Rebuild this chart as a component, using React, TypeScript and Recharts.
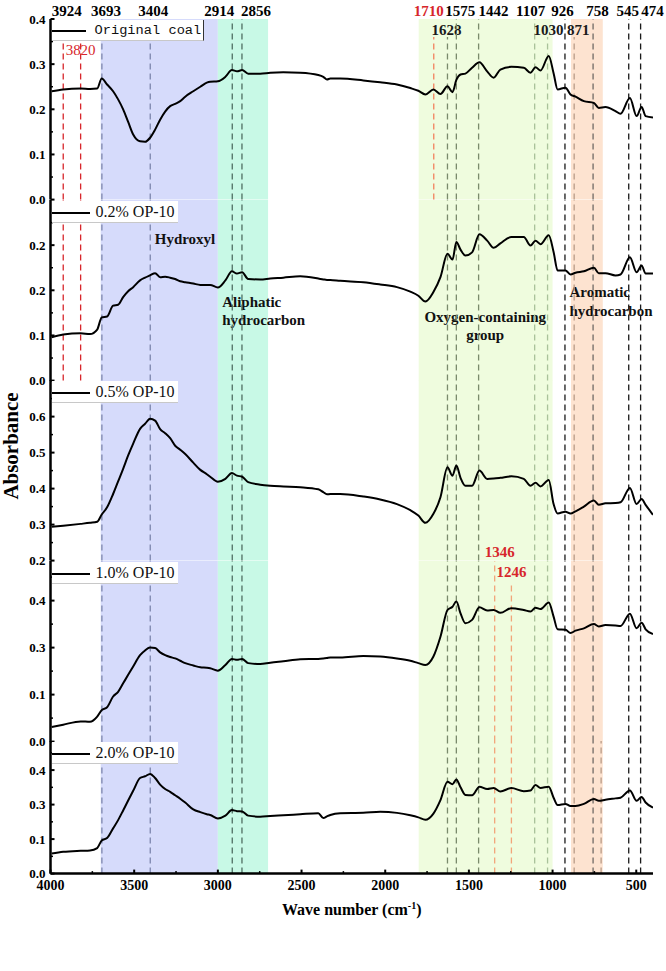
import React from 'react';
import { ComposedChart, Line, XAxis, YAxis, ReferenceLine, ReferenceArea, ReferenceDot, Legend, Label } from 'recharts';

const SERIF = '"Liberation Serif", "Times New Roman", serif';
const MONO = '"Liberation Mono", "Courier New", monospace';

// ---------------- data ----------------
const waveNumbers = [
  3993, 3924, 3820, 3764, 3721, 3694, 3662, 3626, 3596, 3566,
  3536, 3506, 3465, 3435, 3405, 3375, 3345, 3315, 3285, 3255,
  3225, 3195, 3147, 3105, 3066, 3046, 3000, 2955, 2916, 2886,
  2855, 2819, 2747, 2687, 2609, 2508, 2400, 2370, 2348, 2328,
  2269, 2131, 2030, 1930, 1850, 1802, 1760, 1712, 1670, 1628,
  1598, 1575, 1550, 1521, 1481, 1437, 1391, 1352, 1312, 1246,
  1172, 1132, 1102, 1072, 1023, 994, 970, 923, 893, 863,
  813, 753, 724, 684, 624, 594, 538, 498, 468, 444,
  400,
];

const originalCoal = [
  0.240, 0.244, 0.246, 0.245, 0.246, 0.268, 0.255, 0.240, 0.222, 0.200,
  0.172, 0.144, 0.129, 0.128, 0.137, 0.155, 0.177, 0.195, 0.207, 0.212,
  0.218, 0.228, 0.240, 0.250, 0.259, 0.261, 0.262, 0.272, 0.287, 0.284,
  0.287, 0.279, 0.279, 0.281, 0.282, 0.281, 0.276, 0.272, 0.266, 0.268,
  0.268, 0.264, 0.260, 0.255, 0.247, 0.241, 0.233, 0.244, 0.234, 0.251,
  0.238, 0.265, 0.277, 0.279, 0.292, 0.304, 0.284, 0.270, 0.288, 0.294,
  0.292, 0.281, 0.293, 0.286, 0.318, 0.280, 0.244, 0.248, 0.233, 0.228,
  0.218, 0.214, 0.203, 0.205, 0.196, 0.190, 0.225, 0.185, 0.205, 0.185,
  0.182,
];

const op02 = [
  0.096, 0.102, 0.105, 0.103, 0.113, 0.140, 0.142, 0.166, 0.168, 0.185,
  0.198, 0.207, 0.222, 0.228, 0.233, 0.238, 0.229, 0.230, 0.228, 0.225,
  0.220, 0.218, 0.215, 0.212, 0.212, 0.212, 0.206, 0.222, 0.242, 0.237,
  0.240, 0.225, 0.224, 0.226, 0.228, 0.231, 0.226, 0.224, 0.223, 0.223,
  0.221, 0.218, 0.213, 0.207, 0.197, 0.188, 0.175, 0.196, 0.229, 0.281,
  0.268, 0.307, 0.290, 0.277, 0.284, 0.324, 0.310, 0.294, 0.304, 0.318,
  0.318, 0.299, 0.310, 0.302, 0.322, 0.285, 0.244, 0.244, 0.235, 0.239,
  0.242, 0.250, 0.238, 0.238, 0.233, 0.235, 0.273, 0.240, 0.255, 0.237,
  0.237,
];

const op05 = [
  0.294, 0.297, 0.302, 0.305, 0.308, 0.328, 0.348, 0.385, 0.420, 0.455,
  0.492, 0.525, 0.566, 0.580, 0.594, 0.589, 0.565, 0.554, 0.540, 0.519,
  0.508, 0.496, 0.472, 0.452, 0.440, 0.433, 0.419, 0.427, 0.443, 0.436,
  0.433, 0.418, 0.411, 0.408, 0.406, 0.404, 0.398, 0.390, 0.384, 0.385,
  0.385, 0.378, 0.370, 0.357, 0.340, 0.325, 0.305, 0.330, 0.376, 0.459,
  0.436, 0.464, 0.430, 0.408, 0.408, 0.450, 0.427, 0.428, 0.430, 0.434,
  0.427, 0.408, 0.416, 0.406, 0.424, 0.357, 0.331, 0.336, 0.331, 0.337,
  0.350, 0.367, 0.355, 0.359, 0.360, 0.362, 0.402, 0.357, 0.371, 0.355,
  0.327,
];

const op10 = [
  0.031, 0.036, 0.043, 0.042, 0.053, 0.067, 0.073, 0.096, 0.106, 0.124,
  0.142, 0.160, 0.184, 0.194, 0.200, 0.199, 0.190, 0.184, 0.180, 0.177,
  0.172, 0.167, 0.162, 0.158, 0.157, 0.156, 0.151, 0.163, 0.176, 0.174,
  0.176, 0.167, 0.165, 0.168, 0.171, 0.175, 0.176, 0.177, 0.178, 0.179,
  0.179, 0.182, 0.181, 0.177, 0.172, 0.167, 0.163, 0.181, 0.223, 0.280,
  0.287, 0.298, 0.273, 0.252, 0.259, 0.286, 0.279, 0.280, 0.274, 0.284,
  0.280, 0.277, 0.285, 0.282, 0.296, 0.266, 0.239, 0.238, 0.231, 0.236,
  0.241, 0.250, 0.245, 0.248, 0.247, 0.246, 0.272, 0.241, 0.253, 0.239,
  0.229,
];

const op20 = [
  0.058, 0.063, 0.066, 0.067, 0.074, 0.096, 0.103, 0.131, 0.155, 0.183,
  0.212, 0.240, 0.277, 0.282, 0.289, 0.277, 0.258, 0.245, 0.237, 0.227,
  0.217, 0.206, 0.186, 0.178, 0.172, 0.170, 0.160, 0.168, 0.184, 0.181,
  0.180, 0.168, 0.165, 0.167, 0.169, 0.172, 0.175, 0.161, 0.166, 0.170,
  0.175, 0.176, 0.179, 0.176, 0.169, 0.163, 0.156, 0.174, 0.213, 0.266,
  0.259, 0.273, 0.250, 0.228, 0.227, 0.252, 0.245, 0.248, 0.238, 0.248,
  0.239, 0.241, 0.257, 0.248, 0.252, 0.220, 0.199, 0.202, 0.196, 0.196,
  0.202, 0.216, 0.211, 0.214, 0.218, 0.220, 0.241, 0.211, 0.222, 0.206,
  0.191,
];

const seriesNames = ['Original coal', '0.2% OP-10', '0.5% OP-10', '1.0% OP-10', '2.0% OP-10'];
const seriesValues = [originalCoal, op02, op05, op10, op20];

const xTicks = [4000, 3500, 3000, 2500, 2000, 1500, 1000, 500];
const xMinorTicks = [3750, 3250, 2750, 2250, 1750, 1250, 750];
const xDomain = [400, 4000];

const yDomains = [[0, 0.4], [0, 0.4], [0.2, 0.7017], [0, 0.3843], [0, 0.3843]];
const yTicks = [
  [0, 0.1, 0.2, 0.3, 0.4],
  [0, 0.1, 0.2, 0.3],
  [0.2, 0.3, 0.4, 0.5, 0.6],
  [0, 0.1, 0.2, 0.3],
  [0, 0.1, 0.2, 0.3],
];
const yMinorTicks = [
  [0.05, 0.15, 0.25, 0.35],
  [0.05, 0.15, 0.25, 0.35],
  [0.25, 0.35, 0.45, 0.55, 0.65],
  [0.05, 0.15, 0.25, 0.35],
  [0.05, 0.15, 0.25, 0.35],
];
const yTickLabels = [
  ['0.0', '0.1', '0.2', '0.3', '0.4'],
  ['0.0', '0.1', '0.2', '0.2'],
  ['0.2', '0.3', '0.4', '0.5', '0.6'],
  ['0.0', '0.1', '0.3', '0.4'],
  ['0.0', '0.1', '0.3', '0.4'],
];

const bandLines = [['Hydroxyl'], ['Aliphatic', 'hydrocarbon'], ['Oxygen-containing', 'group'], ['Aromatic', 'hydrocarbon']];
const bandFrom = [3700, 3000, 1800, 890];
const bandTo = [3000, 2700, 1000, 700];

const topPeakLabels = [3924, 3693, 3404, 2914, 2856, 1710, 1575, 1442, 1107, 926, 758, 545, 474];
const peakWaves = [3924, 3820, 3693, 3404, 2914, 2856, 1710, 1628, 1575, 1442, 1346, 1246, 1107, 1030, 926, 871, 758, 710, 545, 474];

// ---------------- styles / layout ----------------
const RED = '#d7262b';
const RED_LIGHT = '#f2825f';
const BLUE_GRAY = '#7d86ad';
const TEAL_GRAY = '#4f6e62';
const GREEN_GRAY = '#7a8a6c';
const GREEN_LIGHT = '#a9c29a';
const BLACK = '#1a1a1a';
const ORANGE_GRAY = '#b89c88';
const GRAY = '#6f6a66';
const ORANGE = '#f2a57a';

const BAND_FILL = ['#d6dbfb', '#c8f9e6', '#effcde', '#fde3d0'];
const ALL = [0, 1, 2, 3, 4];

const peakStyle: Record<number, { color: string; panels: number[]; segTop?: Record<number, number> }> = {
  3924: { color: RED, panels: [0, 1], segTop: { 0: 0.354 } },
  3820: { color: RED, panels: [0, 1], segTop: { 0: 0.354 } },
  3693: { color: BLUE_GRAY, panels: ALL },
  3404: { color: BLUE_GRAY, panels: ALL },
  2914: { color: TEAL_GRAY, panels: ALL },
  2856: { color: TEAL_GRAY, panels: ALL },
  1710: { color: RED_LIGHT, panels: [0], segTop: { 0: 0.36 } },
  1628: { color: GREEN_GRAY, panels: ALL, segTop: { 0: 0.36 } },
  1575: { color: GREEN_GRAY, panels: ALL },
  1442: { color: GREEN_GRAY, panels: ALL },
  1346: { color: ORANGE, panels: [3, 4] },
  1246: { color: ORANGE, panels: [3, 4], segTop: { 3: 0.333 } },
  1107: { color: GREEN_LIGHT, panels: ALL },
  1030: { color: GREEN_LIGHT, panels: ALL, segTop: { 0: 0.36 } },
  926: { color: BLACK, panels: ALL },
  871: { color: ORANGE_GRAY, panels: ALL, segTop: { 0: 0.36 } },
  758: { color: GRAY, panels: ALL },
  710: { color: ORANGE_GRAY, panels: [4] },
  545: { color: BLACK, panels: ALL },
  474: { color: BLACK, panels: ALL },
};

const peakLabelLayout = [
  { wave: 3820, panel: 0, inside: true, dy: 15, dx: 0, color: RED, weight: 'normal' },
  { wave: 1628, panel: 0, inside: false, dy: 2, dx: -1, color: BLACK, weight: 'bold' },
  { wave: 1030, panel: 0, inside: false, dy: 2, dx: 1, color: BLACK, weight: 'bold' },
  { wave: 871, panel: 0, inside: false, dy: 2, dx: 4, color: BLACK, weight: 'bold' },
  { wave: 1346, panel: 3, inside: false, dy: 4, dx: 5, color: RED, weight: 'bold' },
  { wave: 1246, panel: 3, inside: false, dy: 8, dx: 0, color: RED, weight: 'bold' },
];

const topLabelNudge = [3.5, 4, 3, -13, 14, -5, 4, 15, -4, -2.5, 4.5, -1, 12];

const BAND_LABEL_LAYOUT = [
  { anchor: 'middle', dx: 84.3, dys: [44.4] },
  { anchor: 'start', dx: 4.3, dys: [107.5, 125.5] },
  { anchor: 'middle', dx: 66.5, dys: [122.5, 140.5] },
  { anchor: 'start', dx: -1.5, dys: [97.5, 116] },
];

const PANEL_TOP = [19, 199.6, 380.2, 560.8, 741.4];
const PANEL_H = 180.6;
const Y_AXIS_W = 42;
const MARGIN_LEFT = 8.5;
const MARGIN_RIGHT = 13;

const makeYTick = (idx: number) => (props: any) => {
  const { x, y, payload } = props;
  const mi = yTicks[idx].indexOf(payload.value);
  const major = mi >= 0;
  return (
    <g>
      <line x1={x} x2={x + (major ? 4 : 2.5)} y1={y} y2={y} stroke="#000" strokeWidth={major ? 2 : 1.5} />
      {major ? (
        <text x={x - 5} y={y} dy="0.35em" textAnchor="end" fontFamily={SERIF} fontSize={13} fontWeight="bold" fill="#000">
          {yTickLabels[idx][mi]}
        </text>
      ) : null}
    </g>
  );
};

const renderXTick = (props: any) => {
  const { x, y, payload } = props;
  const major = xTicks.indexOf(payload.value) >= 0;
  return (
    <g>
      <line x1={x} x2={x} y1={y} y2={y - (major ? 4 : 2.5)} stroke="#000" strokeWidth={major ? 2 : 1.5} />
      {major ? (
        <text x={x} y={y + 16} textAnchor="middle" fontFamily={SERIF} fontSize={14} fontWeight="bold" fill="#000">
          {payload.value}
        </text>
      ) : null}
    </g>
  );
};

const renderTopLabel = (w: number, i: number) => (props: any) => {
  const vb = props.viewBox || {};
  const x = (vb.x ?? 0) + (vb.width ?? 0) / 2 + (topLabelNudge[i] || 0);
  const y = (vb.y ?? 0) + (vb.height ?? 0) / 2 - 3;
  return (
    <text x={x} y={y} textAnchor="middle" fontFamily={SERIF} fontWeight="bold" fontSize={15} fill={w === 1710 ? RED : '#000'}>
      {w}
    </text>
  );
};

const renderPeakLabel = (w: number, lab: any) => (props: any) => {
  const vb = props.viewBox || {};
  const x = (vb.x ?? 0) + lab.dx;
  const y = lab.inside ? (vb.y ?? 0) + lab.dy : (vb.y ?? 0) - lab.dy;
  return (
    <text x={x} y={y} textAnchor="middle" fill={lab.color} fontFamily={SERIF} fontSize={15} fontWeight={lab.weight}>
      {w}
    </text>
  );
};

const renderBandLabel = (b: number) => (props: any) => {
  const vb = props.viewBox || {};
  const lay = BAND_LABEL_LAYOUT[b];
  return (
    <g>
      {bandLines[b].map((t, k) => (
        <text key={t + k} x={(vb.x ?? 0) + lay.dx} y={(vb.y ?? 0) + lay.dys[k]} textAnchor={lay.anchor as any}
          fontFamily={SERIF} fontSize={15} fontWeight="bold" fill="#111">
          {t}
        </text>
      ))}
    </g>
  );
};

const renderYTitle = (props: any) => {
  const vb = props.viewBox || {};
  const x = 18;
  const y = (vb.y ?? 0) + 66;
  return (
    <text x={x} y={y} transform={`rotate(-90 ${x} ${y})`} textAnchor="middle" fontFamily={SERIF} fontSize={21} fontWeight="bold" fill="#000">
      Absorbance
    </text>
  );
};

const renderXTitle = (props: any) => {
  const vb = props.viewBox || {};
  const x = (vb.x ?? 0) + (vb.width ?? 0) / 2;
  const y = (vb.y ?? 0) + 41;
  return (
    <text x={x} y={y} textAnchor="middle" fontFamily={SERIF} fontSize={16} fontWeight="bold" fill="#000">
      Wave number (cm<tspan dy={-6} fontSize={10}>-1</tspan><tspan dy={6}>)</tspan>
    </text>
  );
};

const LegendBox = ({ idx }: { idx: number }) => {
  const first = idx === 0;
  const w = first ? 152 : 126;
  const h = first ? 21 : 22;
  return (
    <div style={{ width: w, height: h, background: '#fff', position: 'relative', boxSizing: 'border-box',
      borderRight: first ? '1px solid #333' : 'none', borderBottom: '1px solid #c8c8c8' }}>
      <div style={{ position: 'absolute', left: 0, top: first ? 10 : 11, width: first ? 34 : 38, height: 2, background: '#000' }} />
      <span style={{ position: 'absolute', left: first ? 43 : 44, top: first ? 2 : 1, fontFamily: first ? MONO : SERIF,
        fontSize: first ? 13.7 : 16, lineHeight: first ? '17px' : '20px', color: '#111', whiteSpace: 'nowrap' }}>
        {seriesNames[idx]}
      </span>
    </div>
  );
};

function Panel({ idx }: { idx: number }) {
  const isFirst = idx === 0;
  const isLast = idx === 4;
  const mt = isFirst ? 19 : 16;
  const mb = isLast ? 50 : 10;
  const data = waveNumbers.map((w, i) => ({ w, v: seriesValues[idx][i] }));
  const dom = yDomains[idx];
  const allYTicks = [...yTicks[idx], ...yMinorTicks[idx]];
  return (
    <div style={{ position: 'absolute', left: 0, top: PANEL_TOP[idx] - mt }}>
      <ComposedChart width={666} height={mt + PANEL_H + mb} data={data}
        margin={{ top: mt, right: MARGIN_RIGHT, bottom: mb, left: MARGIN_LEFT }}>
        <XAxis dataKey="w" type="number" domain={xDomain} reversed allowDataOverflow
          ticks={isLast ? [...xTicks, ...xMinorTicks] : []} interval={0}
          tick={isLast ? renderXTick : false} tickLine={false} tickSize={0} tickMargin={0}
          height={isLast ? 48 : 0} axisLine={{ stroke: '#000', strokeWidth: 2.5 }}>
          {isLast ? <Label content={renderXTitle} /> : null}
        </XAxis>
        <XAxis xAxisId="top" orientation="top" type="number" domain={xDomain} reversed allowDataOverflow
          tick={false} tickLine={false} height={0} axisLine={{ stroke: '#000', strokeWidth: 2.5 }} />
        <YAxis type="number" domain={dom} allowDataOverflow ticks={allYTicks} interval={0}
          width={Y_AXIS_W} axisLine={{ stroke: '#000', strokeWidth: 2.5 }}
          tickLine={false} tickSize={0} tickMargin={0} tick={makeYTick(idx)}>
          {idx === 2 ? <Label content={renderYTitle} /> : null}
        </YAxis>
        <YAxis yAxisId="r" orientation="right" type="number" domain={dom} width={0} tick={false} tickLine={false}
          axisLine={{ stroke: '#000', strokeWidth: 2 }} />

        {bandFrom.map((from, b) => (
          <ReferenceArea key={'band' + b} x1={from} x2={bandTo[b]} fill={BAND_FILL[b]} fillOpacity={1} stroke="none"
            ifOverflow="visible" label={idx === 1 ? renderBandLabel(b) : undefined} />
        ))}

        {peakWaves.filter((w) => peakStyle[w].panels.includes(idx)).map((w) => {
          const st = peakStyle[w];
          const top = st.segTop ? st.segTop[idx] : undefined;
          const lab = peakLabelLayout.find((l) => l.wave === w && l.panel === idx);
          const common: any = {
            stroke: st.color, strokeDasharray: '6 4', strokeWidth: 1.3, ifOverflow: 'visible',
            label: lab ? renderPeakLabel(w, lab) : undefined,
          };
          return top !== undefined ? (
            <ReferenceLine key={'pk' + w} segment={[{ x: w, y: dom[0] }, { x: w, y: top }]} {...common} />
          ) : (
            <ReferenceLine key={'pk' + w} x={w} {...common} />
          );
        })}

        {isFirst
          ? topPeakLabels.map((w, i) => (
              <ReferenceDot key={'tl' + w} x={w} y={dom[1]} r={0} fill="none" stroke="none" ifOverflow="visible"
                label={renderTopLabel(w, i)} />
            ))
          : null}

        <Line dataKey="v" name={seriesNames[idx]} type="monotone" stroke="#000" strokeWidth={2} dot={false}
          activeDot={false} isAnimationActive={false} />

        <Legend layout="horizontal" verticalAlign="middle" align="center"
          wrapperStyle={{ left: 51.5, top: mt + 1, width: 'auto', height: 'auto' }}
          content={() => <LegendBox idx={idx} />} />
      </ComposedChart>
    </div>
  );
}

export default function App() {
  return (
    <div style={{ position: 'absolute', left: 0, top: 0, width: 666, height: 971, background: '#fff', overflow: 'hidden' }}>
      {[0, 1, 2, 3, 4].map((i) => (
        <Panel key={i} idx={i} />
      ))}
    </div>
  );
}
